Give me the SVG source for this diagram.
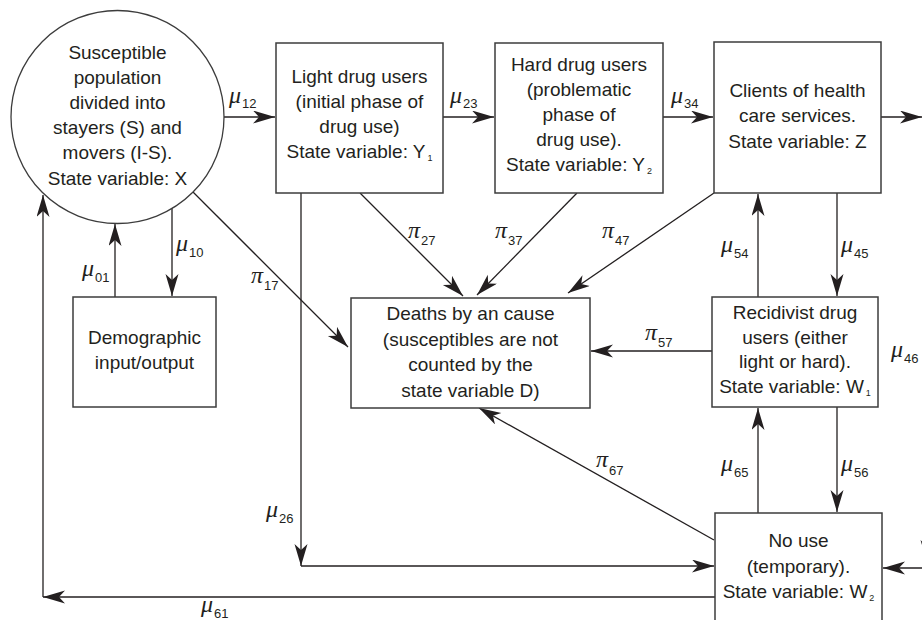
<svg xmlns="http://www.w3.org/2000/svg" width="922" height="620" viewBox="0 0 922 620">
<defs>
<marker id="arr" markerUnits="userSpaceOnUse" markerWidth="24" markerHeight="14" refX="22" refY="6.5" orient="auto">
<path d="M0,0 L22,6.5 L0,13 L6,6.5 Z" fill="#231f20"/>
</marker>
<style>
.box{fill:#fff;stroke:#3c3c3c;stroke-width:1.5}
.ln{fill:none;stroke:#231f20;stroke-width:1.3;marker-end:url(#arr)}
.ln0{fill:none;stroke:#231f20;stroke-width:1.3}
.t{font-family:"Liberation Sans",Arial,sans-serif;font-size:19px;fill:#231f20;text-anchor:middle}
.sb{font-size:9px}
.g{font-family:"Liberation Serif","DejaVu Serif",serif;font-style:italic;font-size:24px;fill:#231f20}
.s{font-family:"Liberation Sans",Arial,sans-serif;font-style:normal;font-size:13px}
</style>
</defs>
<rect width="922" height="620" fill="#fff"/>

<g id="connectors">
<path class="ln" d="M223,117 L275,117"/>
<path class="ln" d="M443,117 L494,117"/>
<path class="ln" d="M663,117 L713,117"/>
<path class="ln" d="M881,117 L922,117"/>
<path class="ln" d="M115,297 L115,224"/>
<path class="ln" d="M172,208 L172,296"/>
<path class="ln" d="M193,192 L348,347"/>
<path class="ln" d="M360,193 L463,296"/>
<path class="ln" d="M577,193 L477,295"/>
<path class="ln" d="M714,193 L568,293"/>
<path class="ln" d="M712,351 L591,351"/>
<path class="ln" d="M714,540 L479,408"/>
<path class="ln" d="M758,297 L758,194"/>
<path class="ln" d="M837,193 L837,296"/>
<path class="ln" d="M758,513 L758,408"/>
<path class="ln" d="M837,407 L837,512"/>
<path class="ln" d="M301,193 L301,566"/>
<path class="ln" d="M301,566 L714,566"/>
<path class="ln0" d="M715,597 L200,597"/>
<path class="ln" d="M200,597 L43,597"/>
<path class="ln" d="M43,597 L43,195"/>
<path class="ln" d="M922,568 L883,568"/>
<path class="ln" d="M927,500 L927,562"/>
</g>

<g id="n_susceptible">
<circle cx="117.5" cy="117" r="106.5" fill="#fff" stroke="#3c3c3c" stroke-width="1.3"/>
<text class="t" x="117.5" y="59">Susceptible</text>
<text class="t" x="117.5" y="84">population</text>
<text class="t" x="117.5" y="109">divided into</text>
<text class="t" x="117.5" y="134">stayers (S) and</text>
<text class="t" x="117.5" y="159">movers (I-S).</text>
<text class="t" x="117.5" y="185">State variable: X</text>
</g>

<g id="n_light">
<rect class="box" x="276" y="43" width="167" height="150"/>
<text class="t" x="359.5" y="83">Light drug users</text>
<text class="t" x="359.5" y="108">(initial phase of</text>
<text class="t" x="359.5" y="133">drug use)</text>
<text class="t" x="359.5" y="158">State variable: Y<tspan class="sb" dx="2" dy="3">1</tspan></text>
</g>

<g id="n_hard">
<rect class="box" x="495" y="43" width="168" height="150"/>
<text class="t" x="579" y="71">Hard drug users</text>
<text class="t" x="579" y="96">(problematic</text>
<text class="t" x="579" y="121">phase of</text>
<text class="t" x="579" y="146">drug use).</text>
<text class="t" x="579" y="171">State variable: Y<tspan class="sb" dx="2" dy="3">2</tspan></text>
</g>

<g id="n_clients">
<rect class="box" x="714" y="42" width="167" height="151"/>
<text class="t" x="797.5" y="97">Clients of health</text>
<text class="t" x="797.5" y="122">care services.</text>
<text class="t" x="797.5" y="148">State variable: Z</text>
</g>

<g id="n_demographic">
<rect class="box" x="73" y="297" width="143" height="110"/>
<text class="t" x="144.5" y="344">Demographic</text>
<text class="t" x="144.5" y="369">input/output</text>
</g>

<g id="n_deaths">
<rect class="box" x="351" y="298" width="239" height="110"/>
<text class="t" x="470.5" y="320">Deaths by an cause</text>
<text class="t" x="470.5" y="346">(susceptibles are not</text>
<text class="t" x="470.5" y="371">counted by the</text>
<text class="t" x="470.5" y="397">state variable D)</text>
</g>

<g id="n_recidivist">
<rect class="box" x="712" y="297" width="166" height="110"/>
<text class="t" x="795" y="319">Recidivist drug</text>
<text class="t" x="795" y="344">users (either</text>
<text class="t" x="795" y="368">light or hard).</text>
<text class="t" x="795" y="393">State variable: W<tspan class="sb" dx="2" dy="3">1</tspan></text>
</g>

<g id="n_nouse">
<rect class="box" x="715" y="513" width="167" height="130"/>
<text class="t" x="798.5" y="547">No use</text>
<text class="t" x="798.5" y="573">(temporary).</text>
<text class="t" x="798.5" y="598">State variable: W<tspan class="sb" dx="2" dy="3">2</tspan></text>
</g>

<g id="labels">
<text class="g" x="229" y="103">μ<tspan class="s" dx="1" dy="5">12</tspan></text>
<text class="g" x="450" y="103">μ<tspan class="s" dx="1" dy="5">23</tspan></text>
<text class="g" x="671" y="103">μ<tspan class="s" dx="1" dy="5">34</tspan></text>
<text class="g" x="82" y="276">μ<tspan class="s" dx="1" dy="6">01</tspan></text>
<text class="g" x="176" y="251">μ<tspan class="s" dx="1" dy="6">10</tspan></text>
<text class="g" x="251" y="283">π<tspan class="s" dx="1" dy="7">17</tspan></text>
<text class="g" x="408" y="238">π<tspan class="s" dx="1" dy="7">27</tspan></text>
<text class="g" x="495" y="238">π<tspan class="s" dx="1" dy="7">37</tspan></text>
<text class="g" x="602" y="238">π<tspan class="s" dx="1" dy="7">47</tspan></text>
<text class="g" x="645" y="340">π<tspan class="s" dx="1" dy="7">57</tspan></text>
<text class="g" x="596" y="467">π<tspan class="s" dx="1" dy="8">67</tspan></text>
<text class="g" x="721" y="252">μ<tspan class="s" dx="1" dy="6">54</tspan></text>
<text class="g" x="841" y="252">μ<tspan class="s" dx="1" dy="6">45</tspan></text>
<text class="g" x="891" y="357">μ<tspan class="s" dx="1" dy="6">46</tspan></text>
<text class="g" x="721" y="471">μ<tspan class="s" dx="1" dy="6">65</tspan></text>
<text class="g" x="841" y="471">μ<tspan class="s" dx="1" dy="6">56</tspan></text>
<text class="g" x="266" y="517">μ<tspan class="s" dx="1" dy="6">26</tspan></text>
<text class="g" x="201" y="612">μ<tspan class="s" dx="1" dy="6">61</tspan></text>
</g>
</svg>
